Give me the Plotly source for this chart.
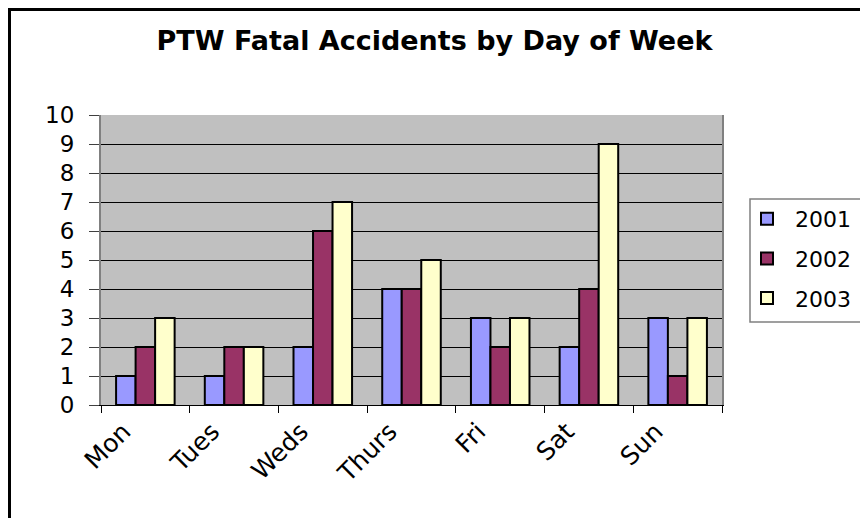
import plotly.graph_objects as go

days = ["Mon", "Tues", "Weds", "Thurs", "Fri", "Sat", "Sun"]
y2001 = [1, 1, 2, 4, 3, 2, 3]
y2002 = [2, 2, 6, 4, 2, 4, 1]
y2003 = [3, 2, 7, 5, 3, 9, 3]
series_names = ["2001", "2002", "2003"]
colors = ["#9999FF", "#993366", "#FFFFCC"]
y_ticks = list(range(0, 11))

# page body has an 8px default margin; work in reference-screen pixels
O = 8
W, H = 868 - O, 518 - O
L, R, T, B = 101, 722, 115, 405
label_shift_px = 22  # rotated day labels sit a little left of the group centres


def px(x):
    return (x - L) / (R - L)


def py(y):
    return (B - y) / (B - T)


fig = go.Figure()
for name, vals, col in zip(series_names, [y2001, y2002, y2003], colors):
    fig.add_trace(go.Bar(
        x=days, y=vals, name=name, legendgroup=name,
        marker=dict(color=col, line=dict(color="black", width=2)),
    ))

n = len(days)
# empty carrier trace so the label-only axis is drawn
fig.add_trace(go.Scatter(x=list(range(n)), y=[None] * n, xaxis="x2", yaxis="y",
                         mode="markers", showlegend=False, hoverinfo="skip"))

shift = label_shift_px * n / (R - L)
font_family = "DejaVu Sans"
fig.update_layout(
    width=W, height=H,
    margin=dict(l=L - O, r=868 - R, t=T - O, b=518 - B),
    paper_bgcolor="white",
    plot_bgcolor="#C0C0C0",
    barmode="group", bargap=0.34, bargroupgap=0,
    font=dict(family=font_family, size=22, color="black"),
    title=dict(text="<b>PTW Fatal Accidents by Day of Week</b>",
               x=px(434.5), xref="paper", xanchor="center",
               y=1 - (41 - O) / H, yref="container", yanchor="middle",
               font=dict(family=font_family, size=27, color="black")),
    showlegend=True,
    legend=dict(x=px(739), xanchor="left", y=py(198), yanchor="top",
                bgcolor="rgba(0,0,0,0)", borderwidth=0,
                itemwidth=46, tracegroupgap=8,
                font=dict(family=font_family, size=22)),
    xaxis=dict(type="category", tickson="boundaries", ticks="outside",
               ticklen=7, tickcolor="black", tickwidth=1,
               showline=True, linecolor="black", linewidth=1,
               showticklabels=False, showgrid=False, fixedrange=True),
    xaxis2=dict(overlaying="x", anchor="y", side="bottom",
                range=[-0.5 + shift, n - 0.5 + shift], autorange=False,
                tickmode="array", tickvals=list(range(n)), ticktext=days,
                ticks="", showline=False, showgrid=False, zeroline=False,
                tickangle=-45, ticklabelstandoff=6,
                tickfont=dict(family=font_family, size=25),
                fixedrange=True),
    yaxis=dict(range=[0, 10], tickvals=y_ticks, ticks="outside",
               ticklen=10, tickcolor="#404040", tickwidth=1,
               showline=True, linecolor="#808080", linewidth=2, mirror=True,
               showgrid=True, gridcolor="black", gridwidth=1,
               zeroline=False, ticklabelstandoff=10, fixedrange=True,
               tickfont=dict(family=font_family, size=23)),
    shapes=[
        dict(type="rect", xref="paper", yref="paper",
             x0=px(750), x1=px(900), y0=py(322), y1=py(199),
             line=dict(color="#808080", width=1.5), fillcolor="rgba(0,0,0,0)"),
        dict(type="line", xref="paper", yref="paper",
             x0=px(8), x1=px(900), y0=py(9.5), y1=py(9.5),
             line=dict(color="black", width=3)),
        dict(type="line", xref="paper", yref="paper",
             x0=px(9.5), x1=px(9.5), y0=py(9), y1=py(600),
             line=dict(color="black", width=3)),
    ],
)

fig.write_html("out.html")
